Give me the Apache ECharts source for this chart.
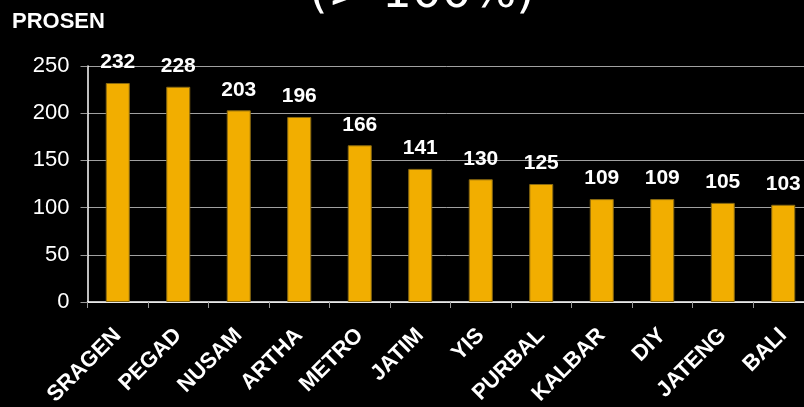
<!DOCTYPE html>
<html>
<head>
<meta charset="utf-8">
<script src="https://cdn.jsdelivr.net/npm/echarts@6/dist/echarts.min.js"></script>
<style>html,body{margin:0;padding:0;background:#000;}#c{width:804px;height:407px;}</style>
</head>
<body>
<div id="c"></div>
<script>
const categories = ['SRAGEN','PEGAD','NUSAM','ARTHA','METRO','JATIM','YIS','PURBAL','KALBAR','DIY','JATENG','BALI'];
const values = [232,228,203,196,166,141,130,125,109,109,105,103];
const yTicks = [0,50,100,150,200,250];
const titleText = '(> 100%)';
const yName = 'PROSEN';

const chart = echarts.init(document.getElementById('c'), null, {renderer:'canvas'});
chart.setOption({
  backgroundColor:'#000',
  animation:false,
  graphic:[
    {type:'text', x:422, y:-5, style:{text:titleText, fill:'#fff', align:'center', verticalAlign:'middle', font:'normal 47px "DejaVu Sans ExtraLight", "DejaVu Sans", sans-serif'}},
    {type:'text', left:12, top:11, style:{text:yName, fill:'#fff', font:'bold 22px "Liberation Sans", Arial, sans-serif'}}
  ],
  grid:{left:87.5, top:66, width:726, bottom:105, outerBoundsMode:'none', containLabel:false},
  xAxis:{
    type:'category', data:categories,
    axisLine:{lineStyle:{color:'#fff', width:1.5}},
    axisTick:{show:true, length:6, lineStyle:{color:'#999'}},
    axisLabel:{interval:0, rotate:45, margin:30, color:'#fff', fontWeight:'bold', fontSize:22, fontFamily:'"Liberation Sans", Arial, sans-serif'}
  },
  yAxis:{
    type:'value', min:yTicks[0], max:yTicks[yTicks.length-1], interval:50,
    axisLine:{show:true, lineStyle:{color:'#fff', width:1.5}},
    axisTick:{show:true, length:7, lineStyle:{color:'#999'}},
    axisLabel:{margin:18, color:'#fff', fontSize:22, fontFamily:'"Liberation Sans", Arial, sans-serif'},
    splitLine:{show:true, lineStyle:{color:'#a0a0a0', width:1}}
  },
  series:[{
    type:'bar', data:values, barWidth:24,
    itemStyle:{color:'#F2AE00', borderColor:'#8a6a10', borderWidth:1},
    label:{show:true, position:'top', distance:10, color:'#fff', fontWeight:'bold', fontSize:21, fontFamily:'"Liberation Sans", Arial, sans-serif'}
  }]
});
</script>
</body>
</html>
